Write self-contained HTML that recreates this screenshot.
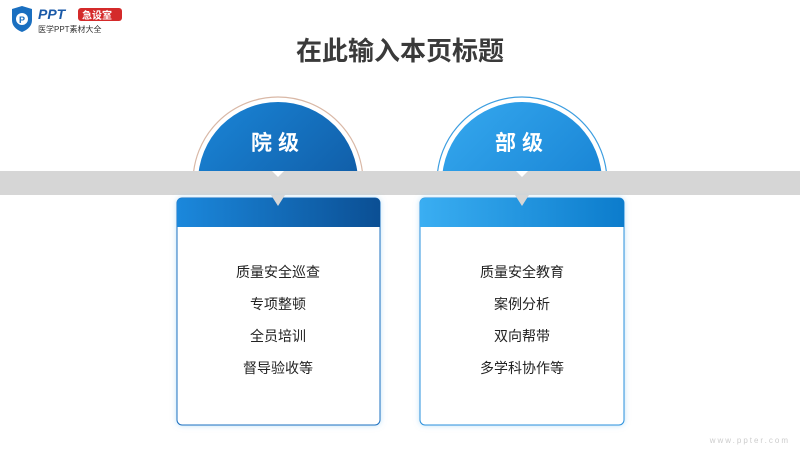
<!DOCTYPE html>
<html><head><meta charset="utf-8"><style>
body{margin:0;width:800px;height:450px;background:#fff;overflow:hidden;font-family:"Liberation Sans","Noto Sans CJK SC",sans-serif}
</style></head><body>
<svg width="800" height="450" xmlns="http://www.w3.org/2000/svg" style="position:absolute;left:0;top:0">
<defs>
<linearGradient id="g1" x1="0" y1="0" x2="1" y2="1"><stop offset="0" stop-color="#1a86d8"/><stop offset="1" stop-color="#0d4f96"/></linearGradient>
<linearGradient id="g2" x1="0" y1="0" x2="1" y2="1"><stop offset="0" stop-color="#36a9ef"/><stop offset="1" stop-color="#0f78cc"/></linearGradient>
<linearGradient id="h1" x1="0" y1="0" x2="1" y2="0"><stop offset="0" stop-color="#1b88dc"/><stop offset="1" stop-color="#0b4f94"/></linearGradient>
<linearGradient id="h2" x1="0" y1="0" x2="1" y2="0"><stop offset="0" stop-color="#3aaef2"/><stop offset="1" stop-color="#0c7ccc"/></linearGradient>
<clipPath id="c"><rect x="0" y="0" width="800" height="171"/></clipPath>
<filter id="sh" x="-10%" y="-10%" width="120%" height="120%"><feDropShadow dx="0" dy="0" stdDeviation="3" flood-color="#7fc4f0" flood-opacity="0.5"/></filter>
</defs>
<!-- logo -->
<path d="M12 9 L22 6 L32 9 L32 20 Q32 28 22 32 Q12 28 12 20 Z" fill="#1a6fc0"/>
<circle cx="22" cy="19" r="6" fill="#fff"/><text x="19" y="23" font-size="9" font-weight="bold" fill="#1a6fc0">P</text>
<text x="38" y="19" font-size="14" font-weight="bold" font-style="italic" fill="#1b5aa8">PPT</text>
<rect x="78" y="8" width="44" height="13" rx="3" fill="#d42a2a"/>
<text x="82" y="19" font-size="10" font-weight="bold" fill="#fff">急设室</text>
<text x="38" y="32" font-size="8" fill="#333">医学PPT素材大全</text>
<text x="400" y="60" text-anchor="middle" font-size="26" font-weight="bold" fill="#3a3a3a">在此输入本页标题</text>
<g clip-path="url(#c)">
<circle cx="278" cy="182" r="85" fill="#fff" stroke="#d9b8a6" stroke-width="1.2"/>
<circle cx="278" cy="182" r="80" fill="url(#g1)"/>
<circle cx="522" cy="182" r="85" fill="#fff" stroke="#3d9ee0" stroke-width="1.2"/>
<circle cx="522" cy="182" r="80" fill="url(#g2)"/>
</g>
<text x="278" y="150" text-anchor="middle" font-size="21" font-weight="bold" fill="#fff" letter-spacing="6">院级</text>
<text x="522" y="150" text-anchor="middle" font-size="21" font-weight="bold" fill="#fff" letter-spacing="6">部级</text>
<rect x="0" y="171" width="800" height="24" fill="#d6d6d6"/>
<path d="M272 171 L284 171 L278 177 Z" fill="#fff"/>
<path d="M516 171 L528 171 L522 177 Z" fill="#fff"/>
<g filter="url(#sh)">
<rect x="177" y="198" width="203" height="227" rx="5" fill="#fff" stroke="#1a6fc0" stroke-width="1"/>
<rect x="420" y="198" width="204" height="227" rx="5" fill="#fff" stroke="#2a90dc" stroke-width="1"/>
</g>
<path d="M177 227 L177 203 Q177 198 182 198 L375 198 Q380 198 380 203 L380 227 Z" fill="url(#h1)"/>
<path d="M420 227 L420 203 Q420 198 425 198 L619 198 Q624 198 624 203 L624 227 Z" fill="url(#h2)"/>
<path d="M271 195 L285 195 L278 206 Z" fill="#d6d6d6"/>
<path d="M515 195 L529 195 L522 206 Z" fill="#d6d6d6"/>
<g font-size="14" fill="#222" text-anchor="middle">
<text x="278" y="277">质量安全巡查</text>
<text x="278" y="309">专项整顿</text>
<text x="278" y="341">全员培训</text>
<text x="278" y="373">督导验收等</text>
<text x="522" y="277">质量安全教育</text>
<text x="522" y="309">案例分析</text>
<text x="522" y="341">双向帮带</text>
<text x="522" y="373">多学科协作等</text>
</g>
<text x="790" y="443" text-anchor="end" font-size="8" fill="#ccc" letter-spacing="2">www.ppter.com</text>
</svg>
</body></html>
